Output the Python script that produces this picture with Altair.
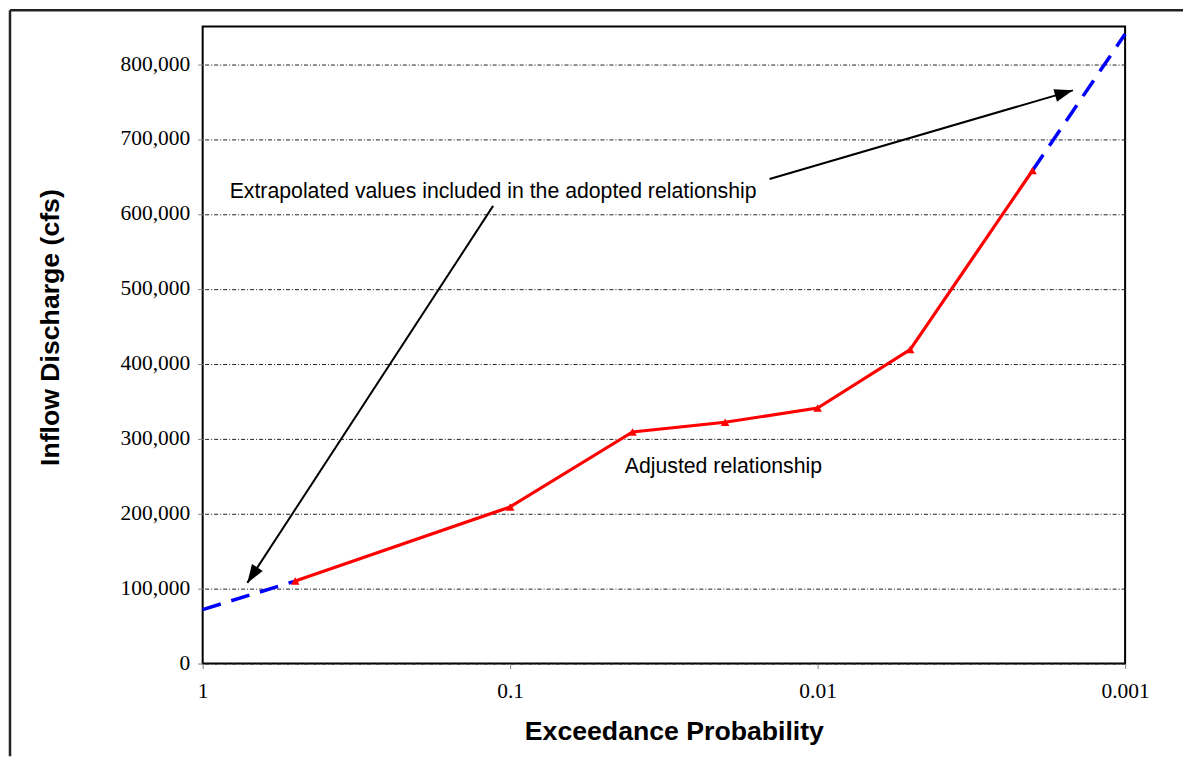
import altair as alt
import pandas as pd

# Adjusted relationship (red)
adj_prob = [0.5, 0.1, 0.04, 0.02, 0.01, 0.005, 0.002]
adj_flow = [110000, 209000, 309000, 322000, 341000, 419000, 658000]

# Extrapolated portions (blue dashed)
ext_low_prob = [1.0, 0.5]
ext_low_flow = [72000, 110000]
ext_high_prob = [0.002, 0.001]
ext_high_flow = [658000, 840000]

# Tick values
x_ticks = [1, 0.1, 0.01, 0.001]
y_ticks = [0, 100000, 200000, 300000, 400000, 500000, 600000, 700000, 800000]

# Annotation text
note_text = ["Extrapolated values included in the adopted relationship", "Adjusted relationship"]
note_prob = [0.817, 0.0424]
note_flow = [629000, 262000]

# Annotation arrows (start -> tip, in data units) and head angles
arrow_id = ["a1", "a2"]
arrow_start_prob = [0.1136, 0.01433]
arrow_start_flow = [610700, 646700]
arrow_tip_prob = [0.7158, 0.001478]
arrow_tip_flow = [107600, 764900]
arrow_angle = [213, 74]

adj_df = pd.DataFrame({"p": adj_prob, "q": adj_flow})
ext_df = pd.DataFrame({
    "p": ext_low_prob + ext_high_prob,
    "q": ext_low_flow + ext_high_flow,
    "seg": ["low", "low", "high", "high"],
})
note_df = pd.DataFrame({"p": note_prob, "q": note_flow, "t": note_text})
arrow_lines = pd.DataFrame({
    "p": arrow_start_prob + arrow_tip_prob,
    "q": arrow_start_flow + arrow_tip_flow,
    "id": arrow_id + arrow_id,
})
arrow_heads = pd.DataFrame({"p": arrow_tip_prob, "q": arrow_tip_flow, "ang": arrow_angle})

xscale = alt.Scale(type="log", domain=[0.001, 1], reverse=True, nice=False)
yscale = alt.Scale(domain=[0, 850000], nice=False, zero=True)

xaxis = alt.Axis(
    values=x_ticks, format="~g", title="Exceedance Probability",
    grid=False, domain=False, tickSize=5, tickColor="#808080", tickWidth=1,
    labelFont="Liberation Serif", labelFontSize=21.5, labelColor="black",
    labelPadding=12, labelFlush=False, labelOverlap=False,
    titleFont="Liberation Sans", titleFontSize=26.7, titleFontWeight="bold",
    titleColor="black", titleX=472, titleY=68, titleAlign="center",
    titleBaseline="middle", titleAnchor="middle",
)
yaxis = alt.Axis(
    values=y_ticks, format=",d", title="Inflow Discharge (cfs)",
    grid=True, gridDash=[4, 2, 1, 2], gridColor="#222222", gridWidth=1,
    domain=False, tickSize=5, tickColor="#808080", tickWidth=1,
    labelFont="Liberation Serif", labelFontSize=21.5, labelColor="black",
    labelPadding=8, labelOverlap=False,
    titleFont="Liberation Sans", titleFontSize=26.7, titleFontWeight="bold",
    titleColor="black", titleX=-152, titleY=301, titleAlign="center",
    titleBaseline="middle", titleAngle=-90,
)

X = alt.X("p:Q", scale=xscale, axis=xaxis)
Y = alt.Y("q:Q", scale=yscale, axis=yaxis)

ext = alt.Chart(ext_df).mark_line(
    color="#0000FF", strokeWidth=3.5, strokeDash=[19, 11], strokeCap="butt"
).encode(x=X, y=Y, detail="seg:N")

adj_line = alt.Chart(adj_df).mark_line(color="#FF0000", strokeWidth=3.2).encode(x=X, y=Y)
adj_pts = alt.Chart(adj_df).mark_point(
    shape="triangle-up", filled=True, color="#FF0000", size=75, opacity=1
).encode(x=X, y=Y)

arr_line = alt.Chart(arrow_lines).mark_line(color="black", strokeWidth=2).encode(
    x=X, y=Y, detail="id:N"
)
arr_head = alt.Chart(arrow_heads).mark_point(
    shape="M0,0L-0.7,2L0.7,2Z", filled=True, color="black", size=340, opacity=1
).encode(x=X, y=Y, angle=alt.Angle("ang:Q", scale=None))

notes = alt.Chart(note_df).mark_text(
    font="Liberation Sans", fontSize=21.3, color="black", align="left", baseline="middle"
).encode(x=X, y=Y, text="t:N")

frame_df = pd.DataFrame({"k": [0]})
frame_left = alt.Chart(frame_df).mark_rule(color="#222222", strokeWidth=2.5).encode(
    x=alt.value(-193), y=alt.value(-16.5), y2=alt.value(731)
)
frame_top = alt.Chart(frame_df).mark_rule(color="#222222", strokeWidth=2.5).encode(
    x=alt.value(-193), x2=alt.value(982), y=alt.value(-16.5)
)

chart = alt.layer(
    ext, adj_line, adj_pts, arr_line, arr_head, notes, frame_left, frame_top
).properties(
    width=924, height=638, padding=0, background="white"
).configure_view(
    stroke="black", strokeWidth=2
)

chart.save("out.html", embed_options={"renderer": "svg", "actions": False})
